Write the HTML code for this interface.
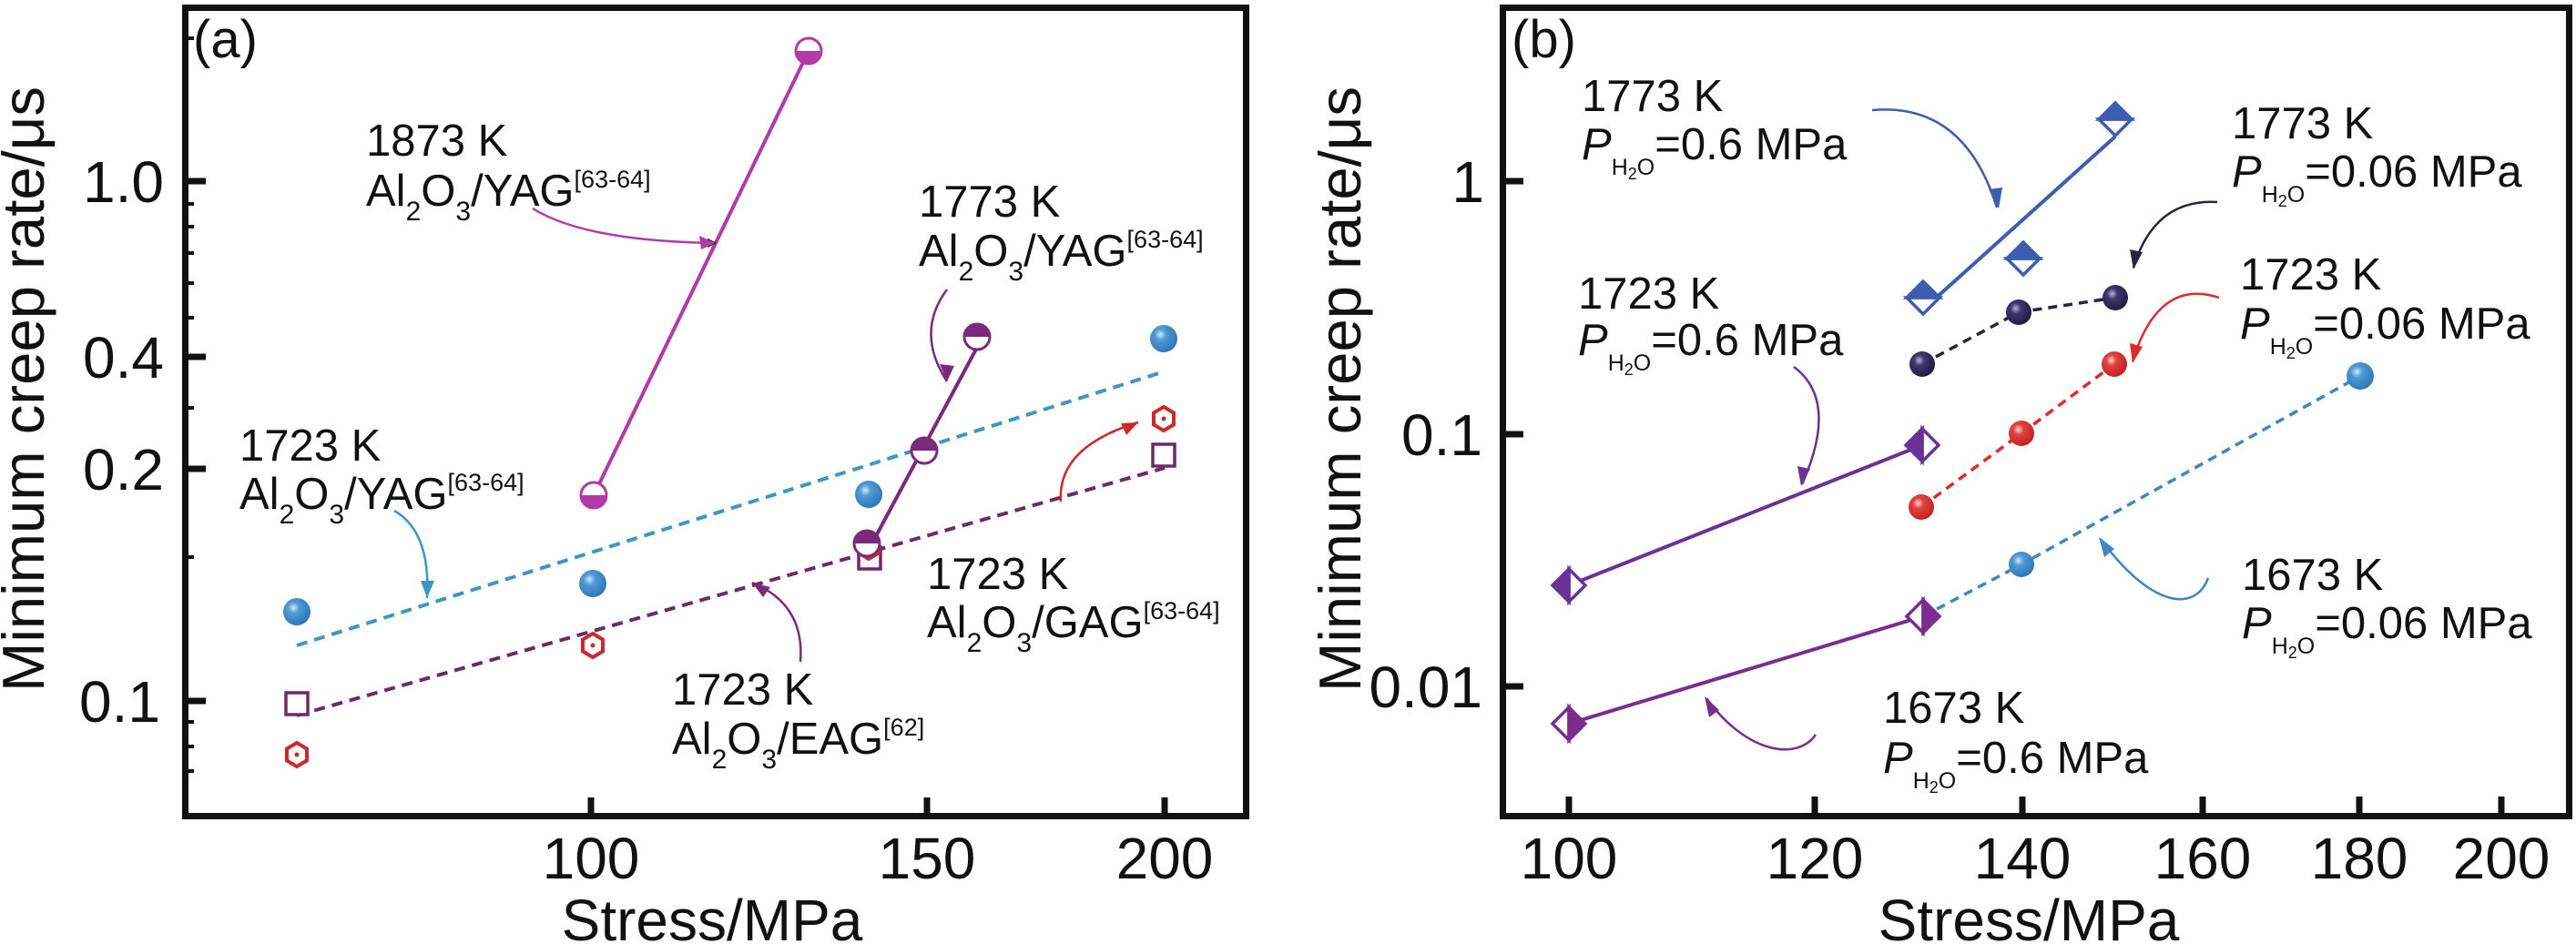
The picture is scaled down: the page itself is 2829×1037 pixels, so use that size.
<!DOCTYPE html>
<html><head><meta charset="utf-8"><style>
html,body{margin:0;padding:0;background:#fff;}
svg{display:block;}
text{font-family:"Liberation Sans",Arial,sans-serif;fill:#111;}
</style></head><body>
<svg width="2829" height="1037" viewBox="0 0 2829 1037" xmlns="http://www.w3.org/2000/svg">
<defs>
<radialGradient id="gb" cx="0.38" cy="0.35" r="0.7"><stop offset="0" stop-color="#cfe8fa"/><stop offset="0.3" stop-color="#4e9ad6"/><stop offset="1" stop-color="#2f73b5"/></radialGradient>
<radialGradient id="gr" cx="0.38" cy="0.35" r="0.7"><stop offset="0" stop-color="#ffd0d0"/><stop offset="0.3" stop-color="#e24040"/><stop offset="1" stop-color="#c01e22"/></radialGradient>
<radialGradient id="gd" cx="0.38" cy="0.35" r="0.7"><stop offset="0" stop-color="#b8b0d8"/><stop offset="0.3" stop-color="#3e3570"/><stop offset="1" stop-color="#1f1a3c"/></radialGradient>
<marker id="am" markerWidth="10" markerHeight="10" refX="9" refY="5" orient="auto" markerUnits="userSpaceOnUse"><path d="M0,0 L10,5 L0,10 z"/></marker>
</defs>

<!-- ================= PANEL A ================= -->
<rect x="203.5" y="8.5" width="1165" height="888" fill="none" stroke="#111" stroke-width="7"/>
<g stroke="#111" stroke-width="7">
<line x1="203" y1="199" x2="226" y2="199"/><line x1="203" y1="392" x2="226" y2="392"/>
<line x1="203" y1="515" x2="226" y2="515"/><line x1="203" y1="770" x2="226" y2="770"/>
<line x1="649" y1="897" x2="649" y2="876"/><line x1="1018" y1="897" x2="1018" y2="876"/><line x1="1279" y1="897" x2="1279" y2="876"/>
</g>
<g stroke="#111" stroke-width="4">
<line x1="203" y1="42" x2="213" y2="42"/><line x1="203" y1="224" x2="213" y2="224"/><line x1="203" y1="249" x2="213" y2="249"/>
<line x1="203" y1="278" x2="213" y2="278"/><line x1="203" y1="311" x2="213" y2="311"/><line x1="203" y1="349" x2="213" y2="349"/>
<line x1="203" y1="448" x2="213" y2="448"/><line x1="203" y1="612" x2="213" y2="612"/><line x1="203" y1="793" x2="213" y2="793"/>
<line x1="203" y1="820" x2="213" y2="820"/><line x1="203" y1="847" x2="213" y2="847"/>
</g>
<g font-size="64" text-anchor="end">
<text x="180" y="222">1.0</text><text x="180" y="415">0.4</text><text x="180" y="538">0.2</text><text x="176" y="793">0.1</text>
</g>
<g font-size="64" text-anchor="middle">
<text x="649" y="965">100</text><text x="1018" y="965">150</text><text x="1279" y="965">200</text>
<text x="782" y="1033">Stress/MPa</text>
</g>
<text transform="translate(48,760) rotate(-90)" font-size="65" textLength="665" lengthAdjust="spacingAndGlyphs">Minimum creep rate/μs</text>
<text x="212" y="63" font-size="58">(a)</text>

<!-- data a -->
<g stroke-dasharray="12,8" stroke-width="4" fill="none">
<line x1="326" y1="709" x2="1279" y2="408" stroke="#3c96c8"/>
<line x1="326" y1="786" x2="1279" y2="514" stroke="#6e2a68"/>
</g>
<line x1="652" y1="544" x2="888" y2="56" stroke="#b23aa8" stroke-width="4"/>
<line x1="955" y1="602" x2="1075" y2="378" stroke="#7a2a78" stroke-width="4"/>
<!-- blue spheres -->
<g fill="url(#gb)"><circle cx="326" cy="672" r="15"/><circle cx="651" cy="641" r="15"/><circle cx="954" cy="543" r="15"/><circle cx="1278" cy="372" r="15"/></g>
<!-- squares -->
<g fill="#fff" stroke="#6e2a68" stroke-width="3.5">
<rect x="314" y="761" width="24" height="24"/><rect x="943" y="601" width="24" height="24"/><rect x="1266" y="488" width="24" height="24"/>
</g>
<!-- hexagons -->
<g fill="#fff" stroke="#cc2a2a" stroke-width="4">
<polygon points="326,816 337,822.5 337,835.5 326,842 315,835.5 315,822.5"/>
<polygon points="651,696 662,702.5 662,715.5 651,722 640,715.5 640,702.5"/>
<polygon points="1278,447 1289,453.5 1289,466.5 1278,473 1267,466.5 1267,453.5"/>
<polygon points="954,588 965,594.5 965,607.5 954,614 943,607.5 943,594.5"/>
</g>
<g fill="#cc2a2a"><circle cx="326" cy="829" r="2.5"/><circle cx="651" cy="709" r="2.5"/><circle cx="1278" cy="460" r="2.5"/></g>
<!-- half circles -->
<g stroke-width="3">
<circle cx="652" cy="544" r="14" fill="#fff" stroke="#b23aa8"/><path d="M638,544 A14,14 0 0 0 666,544 Z" fill="#b23aa8"/>
<circle cx="888" cy="56" r="14" fill="#fff" stroke="#b23aa8"/><path d="M874,56 A14,14 0 0 0 902,56 Z" fill="#b23aa8"/>
<circle cx="952" cy="597" r="14" fill="#fff" stroke="#7a2a78"/><path d="M938,597 A14,14 0 0 1 966,597 Z" fill="#7a2a78"/>
<circle cx="1015" cy="495" r="14" fill="#fff" stroke="#7a2a78"/><path d="M1001,495 A14,14 0 0 1 1029,495 Z" fill="#7a2a78"/>
<circle cx="1073" cy="370" r="14" fill="#fff" stroke="#7a2a78"/><path d="M1059,370 A14,14 0 0 1 1087,370 Z" fill="#7a2a78"/>
</g>
<!-- arrows a -->
<g fill="none" stroke-width="2.5">
<path d="M585,229 Q643,265 786,267" stroke="#b23aa8" marker-end="url(#am)" style="fill:none"/>
<path d="M1040,318 Q1005,365 1040,419" stroke="#7a2a78"/>
<path d="M433,561 Q473,584 469,657" stroke="#3c96c8"/>
<path d="M1165,551 Q1161,491 1250,464" stroke="#cc2a2a"/>
<path d="M879,727 Q884,664 826,640" stroke="#7a2a78"/>
</g>
<g>
<polygon points="786,267 768,259 770,274" fill="#b23aa8"/>
<polygon points="1040,419 1032,400 1048,402" fill="#7a2a78"/>
<polygon points="469,657 462,638 477,638" fill="#3c96c8"/>
<polygon points="1250,464 1231,465 1237,478" fill="#cc2a2a"/>
<polygon points="826,640 838,656 846,645" fill="#7a2a78"/>
</g>
<!-- annotations a -->
<g font-size="49">
<text x="402" y="171">1873 K</text>
<text x="402" y="226">Al<tspan font-size="30" dy="16">2</tspan><tspan dy="-16">O</tspan><tspan font-size="30" dy="16">3</tspan><tspan dy="-16">/YAG</tspan><tspan font-size="27" dy="-20">[63-64]</tspan></text>
<text x="1009" y="238">1773 K</text>
<text x="1009" y="292">Al<tspan font-size="30" dy="16">2</tspan><tspan dy="-16">O</tspan><tspan font-size="30" dy="16">3</tspan><tspan dy="-16">/YAG</tspan><tspan font-size="27" dy="-20">[63-64]</tspan></text>
<text x="263" y="506">1723 K</text>
<text x="263" y="559">Al<tspan font-size="30" dy="16">2</tspan><tspan dy="-16">O</tspan><tspan font-size="30" dy="16">3</tspan><tspan dy="-16">/YAG</tspan><tspan font-size="27" dy="-20">[63-64]</tspan></text>
<text x="1018" y="647">1723 K</text>
<text x="1018" y="700">Al<tspan font-size="30" dy="16">2</tspan><tspan dy="-16">O</tspan><tspan font-size="30" dy="16">3</tspan><tspan dy="-16">/GAG</tspan><tspan font-size="27" dy="-20">[63-64]</tspan></text>
<text x="738" y="774">1723 K</text>
<text x="738" y="828">Al<tspan font-size="30" dy="16">2</tspan><tspan dy="-16">O</tspan><tspan font-size="30" dy="16">3</tspan><tspan dy="-16">/EAG</tspan><tspan font-size="27" dy="-20">[62]</tspan></text>
</g>

<!-- ================= PANEL B ================= -->
<rect x="1650.5" y="8.5" width="1171" height="888" fill="none" stroke="#111" stroke-width="7"/>
<g stroke="#111" stroke-width="7">
<line x1="1650" y1="199" x2="1673" y2="199"/><line x1="1650" y1="477" x2="1673" y2="477"/><line x1="1650" y1="754" x2="1673" y2="754"/>
<line x1="1723" y1="897" x2="1723" y2="875"/><line x1="1993" y1="897" x2="1993" y2="875"/><line x1="2221" y1="897" x2="2221" y2="875"/>
<line x1="2419" y1="897" x2="2419" y2="875"/><line x1="2591" y1="897" x2="2591" y2="875"/><line x1="2747" y1="897" x2="2747" y2="875"/>
</g>
<g font-size="64" text-anchor="end">
<text x="1630" y="222">1</text><text x="1628" y="500">0.1</text><text x="1628" y="777">0.01</text>
</g>
<g font-size="64" text-anchor="middle">
<text x="1723" y="965">100</text><text x="1993" y="965">120</text><text x="2221" y="965">140</text>
<text x="2419" y="965">160</text><text x="2591" y="965">180</text><text x="2747" y="965">200</text>
<text x="2228" y="1033">Stress/MPa</text>
</g>
<text transform="translate(1494,760) rotate(-90)" font-size="65" textLength="665" lengthAdjust="spacingAndGlyphs">Minimum creep rate/μs</text>
<text x="1660" y="63" font-size="58">(b)</text>

<!-- lines b -->
<line x1="2112" y1="340" x2="2323" y2="150" stroke="#3c5db0" stroke-width="4"/>
<line x1="1723" y1="643" x2="2111" y2="489" stroke="#6a3196" stroke-width="4"/>
<line x1="1723" y1="795" x2="2112" y2="677" stroke="#7a2d8e" stroke-width="4"/>
<g stroke-dasharray="10,7" stroke-width="3.5" fill="none">
<polyline points="2111,400 2217,343 2323,327" stroke="#2a2440"/>
<polyline points="2110,557 2220,476 2322,400" stroke="#dd2a2a"/>
<polyline points="2112,677 2220,620 2592,413" stroke="#3c86c8"/>
</g>
<!-- diamonds blue: top filled -->
<g stroke="#3c5db0" stroke-width="3.5">
<g transform="translate(2112,327)"><path d="M-18,0 L0,18 L18,0 Z" fill="#fff"/><path d="M-18,0 L0,-18 L18,0 Z" fill="#3c5db0"/></g>
<g transform="translate(2222,284)"><path d="M-18,0 L0,18 L18,0 Z" fill="#fff"/><path d="M-18,0 L0,-18 L18,0 Z" fill="#3c5db0"/></g>
<g transform="translate(2323,131)"><path d="M-18,0 L0,18 L18,0 Z" fill="#fff"/><path d="M-18,0 L0,-18 L18,0 Z" fill="#3c5db0"/></g>
</g>
<!-- purple diamonds left filled -->
<g stroke="#6a3196" stroke-width="3.5">
<g transform="translate(1723,643)"><path d="M0,-18 L18,0 L0,18 Z" fill="#fff"/><path d="M0,-18 L-18,0 L0,18 Z" fill="#6a3196"/></g>
<g transform="translate(2111,489)"><path d="M0,-18 L18,0 L0,18 Z" fill="#fff"/><path d="M0,-18 L-18,0 L0,18 Z" fill="#6a3196"/></g>
</g>
<g stroke="#7a2d8e" stroke-width="3.5">
<g transform="translate(1723,795)"><path d="M0,-18 L-18,0 L0,18 Z" fill="#fff"/><path d="M0,-18 L18,0 L0,18 Z" fill="#7a2d8e"/></g>
<g transform="translate(2112,677)"><path d="M0,-18 L-18,0 L0,18 Z" fill="#fff"/><path d="M0,-18 L18,0 L0,18 Z" fill="#7a2d8e"/></g>
</g>
<!-- spheres b -->
<g fill="url(#gd)"><circle cx="2111" cy="400" r="14"/><circle cx="2217" cy="343" r="14"/><circle cx="2323" cy="327" r="14"/></g>
<g fill="url(#gr)"><circle cx="2110" cy="557" r="14"/><circle cx="2220" cy="476" r="14"/><circle cx="2322" cy="400" r="14"/></g>
<g fill="url(#gb)"><circle cx="2220" cy="620" r="14"/><circle cx="2592" cy="413" r="15"/></g>
<!-- arrows b -->
<g fill="none" stroke-width="2.5">
<path d="M2056,121 Q2157,112 2193,228" stroke="#3c5db0"/>
<path d="M2435,222 Q2366,218 2343,294" stroke="#2a2440"/>
<path d="M2437,327 Q2370,305 2342,397" stroke="#dd2a2a"/>
<path d="M1970,403 Q2020,440 1979,532" stroke="#6a3196"/>
<path d="M2425,635 C2410,675 2360,665 2307,592" stroke="#3c86c8"/>
<path d="M1994,807 C1975,835 1920,830 1874,767" stroke="#7a2d8e"/>
</g>
<g>
<polygon points="2195,229 2184,208 2199,206" fill="#3c5db0"/>
<polygon points="2343,296 2339,274 2353,277" fill="#2a2440"/>
<polygon points="2342,399 2339,377 2353,381" fill="#dd2a2a"/>
<polygon points="1978,534 1974,512 1988,515" fill="#6a3196"/>
<polygon points="2305,590 2322,603 2311,612" fill="#3c86c8"/>
<polygon points="1872,765 1888,780 1877,788" fill="#7a2d8e"/>
</g>
<!-- annotations b -->
<g font-size="49">
<text x="1737" y="122">1773 K</text>
<text x="1737" y="175"><tspan font-style="italic">P</tspan><tspan font-size="25" dy="17">H</tspan><tspan font-size="18" dy="5">2</tspan><tspan font-size="25" dy="-5">O</tspan><tspan dy="-17">=0.6 MPa</tspan></text>
<text x="2451" y="152">1773 K</text>
<text x="2451" y="205"><tspan font-style="italic">P</tspan><tspan font-size="25" dy="17">H</tspan><tspan font-size="18" dy="5">2</tspan><tspan font-size="25" dy="-5">O</tspan><tspan dy="-17">=0.06 MPa</tspan></text>
<text x="1733" y="339">1723 K</text>
<text x="1733" y="390"><tspan font-style="italic">P</tspan><tspan font-size="25" dy="17">H</tspan><tspan font-size="18" dy="5">2</tspan><tspan font-size="25" dy="-5">O</tspan><tspan dy="-17">=0.6 MPa</tspan></text>
<text x="2460" y="318">1723 K</text>
<text x="2460" y="372"><tspan font-style="italic">P</tspan><tspan font-size="25" dy="17">H</tspan><tspan font-size="18" dy="5">2</tspan><tspan font-size="25" dy="-5">O</tspan><tspan dy="-17">=0.06 MPa</tspan></text>
<text x="2462" y="648">1673 K</text>
<text x="2462" y="701"><tspan font-style="italic">P</tspan><tspan font-size="25" dy="17">H</tspan><tspan font-size="18" dy="5">2</tspan><tspan font-size="25" dy="-5">O</tspan><tspan dy="-17">=0.06 MPa</tspan></text>
<text x="2068" y="794">1673 K</text>
<text x="2068" y="849"><tspan font-style="italic">P</tspan><tspan font-size="25" dy="17">H</tspan><tspan font-size="18" dy="5">2</tspan><tspan font-size="25" dy="-5">O</tspan><tspan dy="-17">=0.6 MPa</tspan></text>
</g>
</svg>
</body></html>
